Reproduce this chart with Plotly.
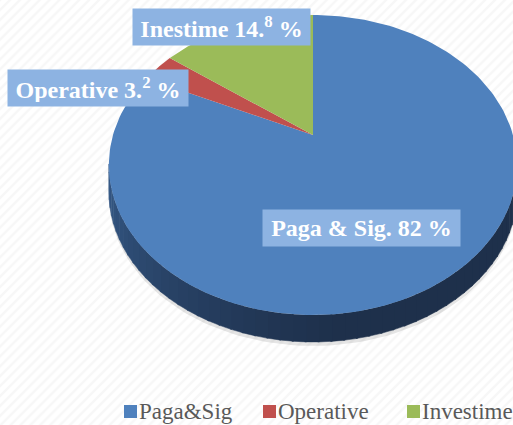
import numpy as np
import plotly.graph_objects as go

# ---- data ----
labels = ["Paga&Sig", "Operative", "Investime"]
values = [82.0, 3.2, 14.8]
colors = ["#4f81bd", "#c0504d", "#9bbb59"]
slice_texts = ["Paga & Sig. 82 %", "Operative 3.<sup>2</sup> %", "Inestime 14.<sup>8</sup> %"]

# ---- layout / projection parameters (pixels) ----
W, H = 513, 425            # figure size
CX, CY = 313, 135          # apex of the pie on screen
A, B, E = 200, 144, 0.2    # perspective ellipse parameters
DEPTH = 27                 # thickness of the 3-D side
SERIF = "Liberation Serif, Times New Roman, DejaVu Serif, serif"

def rim(theta_deg):
    t = np.radians(theta_deg)
    w = 1 + E * np.cos(t)
    return CX + A * np.sin(t) / w, CY - B * np.cos(t) / w

def hex_to_rgb(h):
    h = h.lstrip("#")
    return tuple(int(h[i:i + 2], 16) for i in (0, 2, 4))

fig = go.Figure()

# faint striped background
fig.add_trace(go.Scatter(
    x=[0, W, W, 0, 0], y=[0, 0, H, H, 0], mode="lines", fill="toself",
    fillcolor="white", line=dict(width=0),
    fillpattern=dict(shape="/", fgcolor="#efefef", bgcolor="white", size=7, solidity=0.35),
    hoverinfo="skip", showlegend=False))

# slice angles (clockwise from 12 o'clock)
total = sum(values)
bounds = np.concatenate([[0], np.cumsum(values) / total * 360])

# soft shadow under the pie
th = np.linspace(90, 270, 100)
sx, sy = rim(th)
fig.add_trace(go.Scatter(
    x=np.concatenate([sx, sx[::-1]]), y=np.concatenate([sy + DEPTH + 4, (sy + DEPTH - 2)[::-1]]),
    mode="lines", fill="toself", fillcolor="rgba(0,0,0,0.10)", line=dict(width=0),
    hoverinfo="skip", showlegend=False))

# visible side of the pie (front), where cos(theta) < -E
vis0 = np.degrees(np.arccos(-E))
vis1 = 360 - vis0
side_light = np.array([54, 90, 136])
side_dark = np.array([30, 48, 75])
for i, v in enumerate(values):
    a0, a1 = max(bounds[i], vis0), min(bounds[i + 1], vis1)
    if a1 <= a0:
        continue
    n = int(np.ceil((a1 - a0) / 3))
    edges = np.linspace(a0, a1, n + 1)
    base = np.array(hex_to_rgb(colors[i]))
    for k in range(n):
        th = np.linspace(edges[k], edges[k + 1] + 0.4, 6)
        x, y = rim(th)
        frac = ((edges[k] + edges[k + 1]) / 2 - vis0) / (vis1 - vis0)
        c = side_dark + (side_light - side_dark) * np.clip((frac - 0.45) / 0.55, 0, 1) ** 1.2
        c = c * (base / np.array(hex_to_rgb("#4f81bd")))
        col = "rgb(%d,%d,%d)" % tuple(np.clip(c, 0, 255))
        fig.add_trace(go.Scatter(
            x=np.concatenate([x, x[::-1]]), y=np.concatenate([y, (y + DEPTH)[::-1]]),
            mode="lines", fill="toself", fillcolor=col, line=dict(width=0.5, color=col),
            hoverinfo="skip", showlegend=False))

# top faces of slices
for i, v in enumerate(values):
    th = np.linspace(bounds[i], bounds[i + 1], 200)
    x, y = rim(th)
    fig.add_trace(go.Scatter(
        x=np.concatenate([[CX], x, [CX]]), y=np.concatenate([[CY], y, [CY]]),
        mode="lines", fill="toself", fillcolor=colors[i], line=dict(width=0),
        name=labels[i], hovertemplate=f"{labels[i]}: {v}%<extra></extra>", showlegend=False))

# data labels
label_pos = [(361, 228, 189), (98, 88, 172), (221, 27, 169)]
for txt, (lx, ly, wd) in zip(slice_texts, label_pos):
    fig.add_annotation(
        x=lx, y=ly, xref="x", yref="y", text=txt, showarrow=False,
        font=dict(family=SERIF, size=24, color="white", weight="bold"),
        bgcolor="#8db3e2", borderpad=4, width=wd, height=28, align="center")

# legend (square swatch + label)
legend_x = [124, 263, 407]
LEG_Y = 411.5
for i, lab in enumerate(labels):
    x0 = legend_x[i]
    fig.add_shape(type="rect", xref="x", yref="y", x0=x0, x1=x0 + 13,
                  y0=LEG_Y - 6.5, y1=LEG_Y + 6.5, fillcolor=colors[i], line=dict(width=0))
    fig.add_annotation(
        x=x0 + 14, y=LEG_Y, xref="x", yref="y", text=lab, showarrow=False,
        xanchor="left", yanchor="middle", borderpad=0,
        font=dict(family=SERIF, size=23, color="#595959"))

fig.update_layout(
    width=W, height=H, margin=dict(l=0, r=0, t=0, b=0, autoexpand=False),
    paper_bgcolor="white", plot_bgcolor="white",
    font=dict(family=SERIF),
    xaxis=dict(range=[0, W], visible=False, fixedrange=True),
    yaxis=dict(range=[H, 0], visible=False, fixedrange=True),
    showlegend=False,
)

fig.write_html("out.html", config={"displayModeBar": False},
               post_script="document.body.style.margin='0px';document.body.style.overflow='hidden';")
